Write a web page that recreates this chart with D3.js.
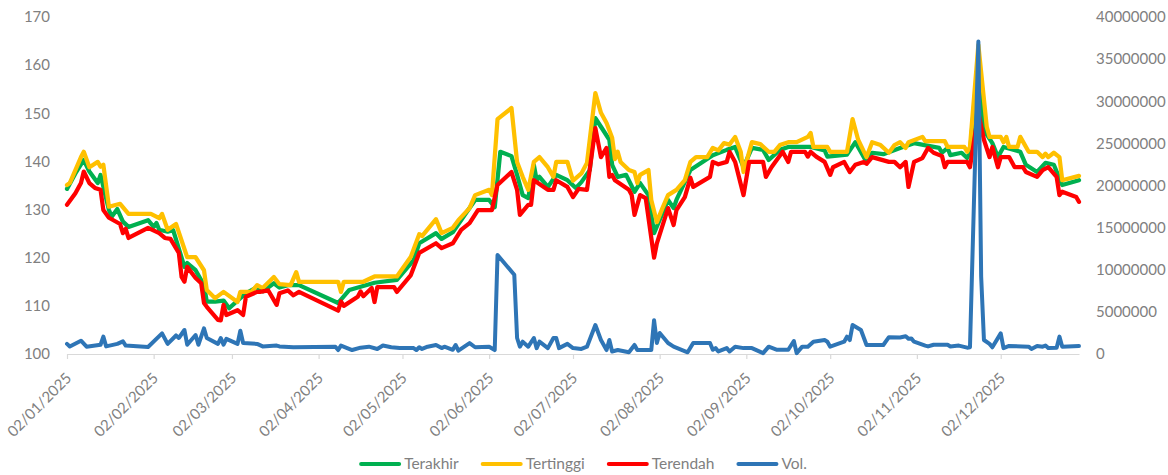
<!DOCTYPE html>
<html><head><meta charset="utf-8">
<script src="https://cdn.jsdelivr.net/npm/d3@7/dist/d3.min.js"></script>
<style>
html,body{margin:0;padding:0;background:#fff;}
svg{display:block;font-family:Lato,"Open Sans",sans-serif;}
</style></head><body>
<svg id="chart" width="1168" height="475"></svg>
<script>
const year = 2025;
const seriesNames = ["Terakhir", "Tertinggi", "Terendah", "Vol."];
const leftTicks = [100, 110, 120, 130, 140, 150, 160, 170];
const rightTicks = [0, 5000000, 10000000, 15000000, 20000000, 25000000, 30000000, 35000000, 40000000];
const xTickLabels = ["02/01/2025","02/02/2025","02/03/2025","02/04/2025","02/05/2025","02/06/2025","02/07/2025","02/08/2025","02/09/2025","02/10/2025","02/11/2025","02/12/2025"];

const terakhirDates = ["01-02","01-05","01-08","01-10","01-13","01-14","01-17","01-18","01-20","01-22","01-24","01-31","02-02","02-03","02-04","02-07","02-09","02-13","02-14","02-17","02-20","02-21","02-24","02-27","03-01","03-05","03-07","03-11","03-13","03-17","03-19","03-22","03-26","04-09","04-13","04-22","04-30","05-06","05-08","05-14","05-16","05-20","05-25","05-28","06-02","06-04","06-06","06-10","06-12","06-14","06-16","06-18","06-19","06-20","06-23","06-26","06-30","07-03","07-05","07-08","07-10","07-12","07-15","07-16","07-18","07-21","07-24","07-26","07-29","07-31","08-05","08-07","08-08","08-13","08-21","08-26","08-29","09-01","09-04","09-08","09-10","09-14","09-17","09-25","09-30","10-01","10-08","10-11","10-15","10-17","10-21","10-27","11-01","11-10","11-11","11-13","11-14","11-18","11-20","11-21","11-24","11-26","11-29","12-01","12-03","12-09","12-11","12-15","12-18","12-21","12-24","12-30"];
const terakhirValues = [134.3,137.5,140.3,137.9,135.5,137.2,129.9,128.5,130.1,127.5,126.4,127.8,126.4,127.2,125.8,125.4,125.7,118.1,118.9,117.4,114.3,110.9,110.9,111.1,109.5,111.6,112.6,113.9,113.0,114.7,113.8,114.3,114.3,110.6,113.3,114.8,115.4,119.5,123.0,125.1,123.9,125.3,129.5,132.0,132.0,130.5,142.0,141.1,137.2,133.0,132.4,139.3,136.1,136.8,134.7,137.2,136.1,134.5,135.7,138.2,149.0,147.2,144.5,139.3,136.8,137.2,133.7,135.5,133.0,125.1,132.0,130.3,132.0,138.2,141.3,142.4,143.0,138.8,142.8,142.4,140.3,142.4,143.0,143.0,142.3,141.0,141.4,144.0,139.9,141.8,141.5,142.8,143.8,142.8,141.8,142.8,141.3,141.8,140.7,141.8,161.7,146.5,143.8,140.9,143.0,142.0,139.3,137.8,139.7,139.3,135.1,136.1];

const tertinggiDates = ["01-02","01-03","01-07","01-08","01-10","01-13","01-14","01-15","01-17","01-21","01-24","02-01","02-04","02-05","02-07","02-10","02-14","02-17","02-20","02-21","02-24","02-27","03-04","03-05","03-09","03-11","03-13","03-17","03-19","03-23","03-25","03-26","04-09","04-10","04-11","04-18","04-22","04-30","05-05","05-08","05-09","05-14","05-16","05-20","05-22","05-26","05-28","06-02","06-03","06-05","06-10","06-12","06-14","06-16","06-18","06-20","06-23","06-25","06-26","06-30","07-02","07-05","07-07","07-10","07-12","07-14","07-16","07-17","07-18","07-19","07-22","07-24","07-25","07-26","07-29","07-30","08-01","08-03","08-05","08-08","08-11","08-13","08-15","08-19","08-21","08-23","08-25","08-27","08-29","08-31","09-01","09-04","09-07","09-10","09-12","09-14","09-17","09-20","09-24","09-25","09-26","10-01","10-02","10-08","10-10","10-12","10-15","10-17","10-20","10-23","10-25","10-27","10-29","10-30","11-04","11-05","11-12","11-13","11-19","11-20","11-21","11-24","11-27","11-28","12-02","12-03","12-04","12-05","12-08","12-09","12-12","12-15","12-17","12-18","12-19","12-21","12-23","12-24","12-30"];
const tertinggiValues = [135.1,135.5,140.9,142.0,138.8,139.9,138.9,139.3,130.6,131.2,129.1,129.1,128.2,129.1,125.8,127.0,120.1,120.1,117.4,113.3,111.6,112.9,110.8,112.9,112.9,114.3,113.7,116.0,114.5,114.3,117.0,115.0,115.0,112.9,115.0,115.0,116.1,116.1,120.2,124.9,124.5,128.0,125.1,126.2,127.8,130.3,133.0,134.1,133.0,148.8,151.1,139.9,136.8,134.1,139.9,140.9,138.8,136.8,139.9,139.9,136.0,137.5,139.7,154.2,150.1,148.0,144.9,140.5,142.0,139.9,138.2,137.8,135.5,137.2,138.2,132.0,127.4,130.3,133.0,134.1,136.1,139.9,140.9,140.9,142.8,142.3,143.8,143.5,145.1,142.0,137.8,144.0,143.6,142.0,142.0,143.4,144.0,144.0,145.1,145.9,143.0,143.0,142.0,142.0,148.8,144.5,140.9,144.0,143.4,141.8,143.4,144.0,142.8,144.0,145.1,144.2,144.2,143.0,143.0,142.0,143.0,164.2,147.2,145.1,145.1,144.0,145.1,143.0,143.0,145.1,142.0,142.0,140.9,141.6,140.9,141.8,140.9,136.1,137.0];

const terendahDates = ["01-02","01-05","01-07","01-08","01-10","01-12","01-14","01-15","01-17","01-21","01-22","01-23","01-24","01-31","02-04","02-06","02-08","02-11","02-12","02-13","02-14","02-17","02-19","02-20","02-21","02-25","02-26","02-27","02-28","03-04","03-06","03-07","03-11","03-12","03-15","03-18","03-19","03-22","03-24","03-26","04-09","04-10","04-11","04-16","04-17","04-18","04-21","04-22","04-23","04-29","04-30","05-05","05-08","05-14","05-16","05-20","05-23","05-26","05-29","06-03","06-05","06-10","06-12","06-13","06-16","06-17","06-18","06-23","06-25","06-26","06-30","07-02","07-04","07-07","07-10","07-12","07-14","07-15","07-16","07-17","07-22","07-23","07-24","07-26","07-28","07-31","08-01","08-05","08-07","08-08","08-11","08-13","08-14","08-20","08-21","08-23","08-26","08-27","08-29","09-01","09-03","09-08","09-09","09-11","09-15","09-17","09-18","09-23","09-24","09-25","09-27","09-30","10-02","10-03","10-07","10-09","10-11","10-14","10-15","10-17","10-23","10-25","10-27","10-29","10-30","11-01","11-04","11-06","11-08","11-11","11-12","11-13","11-20","11-21","11-24","11-26","11-28","11-29","12-01","12-02","12-05","12-07","12-10","12-11","12-15","12-17","12-19","12-22","12-23","12-24","12-29","12-30"];
const terendahValues = [131.0,133.4,135.5,137.9,135.5,134.5,134.1,129.9,128.3,127.0,125.1,126.0,124.1,126.2,125.1,124.1,123.9,121.0,116.0,115.0,118.1,115.8,114.7,110.6,109.8,107.1,107.0,110.2,108.1,109.1,108.1,111.9,112.9,112.9,113.2,110.2,112.6,113.2,112.2,112.9,109.0,110.9,110.0,111.9,113.0,112.0,113.7,110.8,113.9,113.9,112.9,116.4,121.0,123.0,122.0,123.0,125.8,127.2,129.9,129.9,135.1,137.8,134.1,128.9,131.0,131.0,136.1,134.1,134.1,136.1,134.7,132.6,134.3,134.1,146.9,140.9,142.8,136.8,137.2,136.1,134.1,133.0,128.9,133.0,132.4,120.0,123.0,130.3,126.8,129.9,132.6,136.6,134.7,136.8,139.9,139.4,139.9,142.0,139.9,133.0,139.9,139.9,136.8,138.8,142.0,139.9,142.0,142.0,141.0,142.0,141.0,139.9,137.2,138.8,139.9,137.8,139.3,139.9,139.5,140.9,139.9,139.9,138.8,139.9,134.7,139.9,140.7,142.8,141.8,141.1,138.8,139.9,139.9,138.8,150.0,144.5,140.9,143.0,138.8,140.9,140.9,138.8,138.8,137.8,136.8,138.2,138.8,136.8,133.0,133.7,132.6,131.6];

const volDates = ["01-02","01-03","01-07","01-09","01-14","01-15","01-16","01-20","01-22","01-23","01-31","02-05","02-07","02-10","02-11","02-13","02-14","02-17","02-18","02-20","02-21","02-25","02-26","02-27","02-28","03-04","03-05","03-06","03-11","03-13","03-18","03-19","03-24","04-08","04-09","04-10","04-14","04-17","04-20","04-23","04-25","04-28","05-01","05-06","05-07","05-08","05-09","05-11","05-14","05-16","05-17","05-20","05-21","05-22","05-26","05-28","06-02","06-04","06-05","06-11","06-12","06-13","06-14","06-16","06-18","06-19","06-20","06-23","06-25","06-26","06-27","06-30","07-02","07-05","07-07","07-10","07-12","07-14","07-15","07-16","07-18","07-22","07-24","07-25","07-30","07-31","08-01","08-02","08-05","08-07","08-12","08-14","08-20","08-21","08-22","08-23","08-26","08-27","08-29","09-01","09-04","09-08","09-10","09-13","09-17","09-19","09-20","09-22","09-24","09-26","09-30","10-01","10-02","10-04","10-07","10-08","10-09","10-10","10-13","10-15","10-21","10-23","10-27","10-29","10-30","10-31","11-01","11-05","11-06","11-08","11-13","11-14","11-17","11-20","11-21","11-24","11-25","11-26","11-28","11-29","12-02","12-03","12-05","12-12","12-13","12-15","12-17","12-18","12-19","12-22","12-23","12-24","12-30"];
const volValues = [1200000,900000,1580000,870000,1100000,2060000,900000,1200000,1500000,1000000,830000,2450000,1200000,2200000,1900000,2850000,1100000,2250000,1100000,3050000,1900000,1200000,1900000,1100000,1800000,1200000,2770000,1300000,1200000,900000,1000000,900000,800000,870000,470000,1000000,470000,750000,870000,600000,1000000,800000,700000,700000,470000,800000,600000,870000,1070000,700000,870000,500000,1070000,400000,1300000,800000,870000,470000,11750000,9400000,1900000,870000,1460000,870000,1900000,700000,1460000,700000,1900000,1900000,700000,1200000,700000,600000,870000,3440000,1660000,470000,1660000,300000,470000,200000,1070000,470000,470000,4000000,1300000,2500000,1300000,870000,200000,1300000,1300000,500000,700000,300000,700000,300000,870000,700000,700000,100000,870000,500000,500000,1540000,100000,870000,870000,1460000,1660000,1460000,870000,1100000,1460000,2060000,1660000,3440000,2850000,1070000,1070000,2000000,1950000,2100000,1800000,1850000,1460000,990000,900000,1100000,1100000,900000,1000000,750000,800000,37100000,9200000,1660000,1200000,800000,2450000,700000,950000,870000,600000,950000,870000,1000000,700000,750000,2060000,870000,950000];

const parseDay = d3.timeParse("%Y-%m-%d");
const parseTick = d3.timeParse("%d/%m/%Y");
const toPoints = (dates, values) => d3.range(Math.min(dates.length, values.length))
  .map(i => ({date: parseDay(year + "-" + dates[i]), value: values[i]}));

const series = [
  {name: seriesNames[0], pts: toPoints(terakhirDates, terakhirValues), color: "#00B050", axis: "L", w: 4.25},
  {name: seriesNames[1], pts: toPoints(tertinggiDates, tertinggiValues), color: "#FFC000", axis: "L", w: 4.25},
  {name: seriesNames[2], pts: toPoints(terendahDates, terendahValues), color: "#FF0000", axis: "L", w: 4.25},
  {name: seriesNames[3], pts: toPoints(volDates, volValues), color: "#2E75B6", axis: "R", w: 4}
];

const svg = d3.select("#chart");
const P = {left: 67, right: 1079, top: 17, bottom: 354};
const textColor = "#808080";
const fontSize = "15px";

const allDates = series.flatMap(s => s.pts.map(p => p.date));
const x = d3.scaleTime().domain(d3.extent(allDates)).range([P.left, P.right]);
const yL = d3.scaleLinear().domain([leftTicks[0], leftTicks[leftTicks.length - 1]]).range([P.bottom, P.top]);
const yR = d3.scaleLinear().domain([rightTicks[0], rightTicks[rightTicks.length - 1]]).range([P.bottom, P.top]);

const gL = svg.append("g").attr("transform", `translate(${P.left},0)`)
  .call(d3.axisLeft(yL).tickValues(leftTicks).tickSize(0).tickPadding(17).tickFormat(d3.format("d")));
gL.select(".domain").remove();
gL.selectAll("text").attr("fill", textColor).style("font-size", fontSize).style("font-family", "Lato");

const gR = svg.append("g").attr("transform", `translate(${P.right},0)`)
  .call(d3.axisRight(yR).tickValues(rightTicks).tickSize(0).tickPadding(17).tickFormat(d3.format("d")));
gR.select(".domain").remove();
gR.selectAll("text").attr("fill", textColor).style("font-size", fontSize).style("font-family", "Lato");

const fmt = d3.timeFormat("%d/%m/%Y");
const gB = svg.append("g").attr("transform", `translate(0,${P.bottom})`)
  .call(d3.axisBottom(x).tickValues(xTickLabels.map(parseTick)).tickSize(5).tickSizeOuter(0).tickFormat(fmt));
gB.select(".domain").attr("stroke", "#d9d9d9").attr("stroke-width", 1.2);
gB.selectAll(".tick line").attr("stroke", "#d9d9d9").attr("stroke-width", 1.2);
gB.selectAll("text")
  .attr("fill", textColor).style("font-size", fontSize).style("font-family", "Lato")
  .attr("x", 0).attr("y", 0).attr("dy", 0)
  .attr("text-anchor", "end")
  .attr("transform", "translate(5,25) rotate(-45)");

series.forEach(s => {
  const y = s.axis === "L" ? yL : yR;
  const line = d3.line().x(d => x(d.date)).y(d => y(d.value));
  svg.append("path").datum(s.pts)
    .attr("fill", "none").attr("stroke", s.color).attr("stroke-width", s.w)
    .attr("stroke-linejoin", "round").attr("stroke-linecap", "round")
    .attr("d", line);
});

const legY = 464;
const leg = svg.append("g");
const items = [];
series.forEach(s => {
  const g = leg.append("g");
  g.append("line").attr("x1", 0).attr("x2", 38).attr("y1", 0).attr("y2", 0)
    .attr("stroke", s.color).attr("stroke-width", 4).attr("stroke-linecap", "round");
  const t = g.append("text").attr("x", 43).attr("y", 0).attr("dy", "0.35em")
    .attr("fill", textColor).style("font-size", "15.5px").style("font-family", "Lato").text(s.name);
  const w = 43 + t.node().getComputedTextLength();
  items.push({g, w});
});
const gap = 24;
const total = d3.sum(items, d => d.w) + gap * (items.length - 1);
let start = 584 - total / 2;
items.forEach(it => {
  it.g.attr("transform", `translate(${start},${legY})`);
  start += it.w + gap;
});
</script>
</body></html>
